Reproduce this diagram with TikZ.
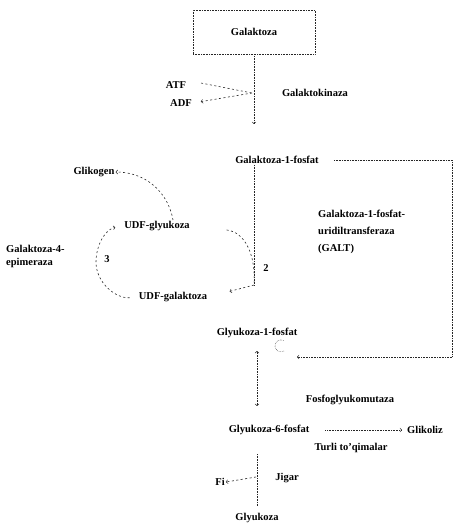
\documentclass[tikz,border=0pt]{standalone}
\usepackage{fontspec}
\setmainfont{Liberation Serif}
\begin{document}
\begin{tikzpicture}[x=1pt,y=-1pt,lbl/.style={font=\bfseries\fontsize{10.5}{13}\selectfont,inner sep=1pt},
  dl/.style={densely dotted,semithick,black!85},cl/.style={dash pattern=on 2pt off 2.5pt,semithick,black!85}]
\useasboundingbox(0,0)rectangle(453,528);
% galaktoza -> galaktoza-1-fosfat
\node[lbl,draw,dl,text=black,minimum width=122,minimum height=44](gal)at(254,32){Galaktoza};
\node[lbl](atf)at(176,85){ATF};\node[lbl](adf)at(181,103){ADF};\node[lbl](kin)at(315,93){Galaktokinaza};
\node[lbl](g1p)at(277,160){Galaktoza-1-fosfat};
\coordinate(k1)at(252,93);\coordinate(k2)at(254,124);
\draw[dl,->](gal.south-|k2)--(k2);
\draw[cl,shorten <=14](atf.north east)--(k1);\draw[cl,->,shorten >=8](k1)--(adf.east);
% UDF cycle
\node[lbl](gly)at(94,172){Glikogen};
\node[lbl](ugl)at(157,226){UDF-glyukoza};\node[lbl](uga)at(173,297){UDF-galaktoza};
\node[lbl,align=left,anchor=west](epi)at(5,256){Galaktoza-4-\\epimeraza};
\node[lbl](n3)at(107,259){3};\node[lbl](n2)at(266,268){2};
\node[lbl,font=\bfseries\fontsize{10.5}{17}\selectfont,align=left,anchor=west](galt)at(317,232){Galaktoza-1-fosfat-\\uridiltransferaza\\(GALT)};
\coordinate(j1)at(254,285);\coordinate(e1)at(96,262);
\draw[dl](g1p.south-|j1)--(j1);
\draw[cl,->,shorten <=36,shorten >=22](ugl.east)..controls(245,232)and(256,255)..(j1)--(uga.east);
\draw[cl,->,shorten <=8,shorten >=8](uga.west)to[out=185,in=-90](e1)to[out=90,in=190](ugl.west);
\draw[cl,->]([xshift=16]ugl.north)to[out=100,in=0](gly.east);
% GALT
\coordinate(r1)at(452,160);\coordinate(r2)at(452,357);\coordinate(c1)at(297,357);
\draw[dl,->,shorten <=14](g1p.east)--(r1)--(r2)--(c1);
\draw[dl,black!60](284,351)arc(60:300:6);
% glyukoza
\node[lbl](g1p2)at(257,333){Glyukoza-1-fosfat};\node[lbl](mut)at(350,400){Fosfoglyukomutaza};
\node[lbl](g6p)at(269,430){Glyukoza-6-fosfat};\node[lbl](glz)at(425,430){Glikoliz};
\node[lbl](tur)at(351,448){Turli to'qimalar};
\node[lbl](fi)at(220,482){Fi};\node[lbl](jig)at(287,478){Jigar};\node[lbl](glc)at(257,518){Glyukoza};
\coordinate(f1)at(256,477);
\draw[dl,<->,shorten <=12,shorten >=18](g1p2.south)--(g6p.north-|g1p2.south);
\draw[dl,->,shorten <=15,shorten >=4](g6p.east)--(glz.west);
\draw[dl,shorten <=18,shorten >=6](g6p.south-|glc.north)--(glc.north);
\draw[cl,->](f1)--(fi.east);
\end{tikzpicture}
\end{document}
